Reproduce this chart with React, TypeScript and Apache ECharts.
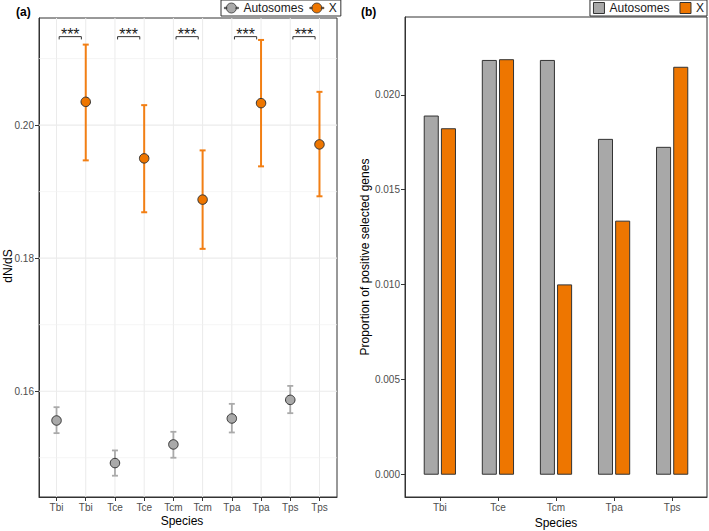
import React, { useEffect, useRef } from 'react';
import * as echarts from 'echarts';

// ---------- data ----------
const species = ['Tbi', 'Tce', 'Tcm', 'Tpa', 'Tps'];
const groupNames = ['Autosomes', 'X'];

// panel (a): dN/dS, mean with error-bar limits
const autoMean = [0.1556, 0.1492, 0.152, 0.1559, 0.1587];
const autoLow = [0.1537, 0.1473, 0.15, 0.1538, 0.1567];
const autoHigh = [0.1576, 0.1511, 0.1539, 0.1581, 0.1608];
const xMean = [0.2035, 0.195, 0.1888, 0.2033, 0.1971];
const xLow = [0.1947, 0.1869, 0.1814, 0.1938, 0.1893];
const xHigh = [0.2121, 0.203, 0.1962, 0.2128, 0.205];
const sigLabels = ['***', '***', '***', '***', '***'];
const sigY = 0.2133;
const aMajorTicks = [0.16, 0.18, 0.2];
const aMinorTicks = [0.15, 0.17, 0.19, 0.21];

// panel (b): proportion of positively selected genes
const autoProp = [0.01888, 0.02181, 0.02181, 0.01765, 0.01723];
const xProp = [0.01821, 0.02185, 0.00998, 0.01334, 0.02145];
const bTicks = [0, 0.005, 0.01, 0.015, 0.02];

// ---------- styling ----------
const FONT = "'Liberation Sans', Arial, Helvetica, sans-serif";
const GREY = '#A9A9A9';
const ORANGE = '#EE7600';
const ORANGE_BAR = '#F27F14';
const GREY_BAR = '#A8A8A8';
const DARK = '#333333';
const GRID = '#EBEBEB';

const aCats = species.flatMap((s) => [s, s]);
const aIdx = aCats.map((_, i) => i);
const bIdx = species.map((_, i) => i);

const legendIcon =
  'path://M0,4.3h2.4v1.4H0z M11.6,4.3H14v1.4h-2.6z M2,5a5,5 0 1,0 10,0a5,5 0 1,0 -10,0z';

function errRender(color: string, lw: number) {
  return (params: any, api: any) => {
    const x = api.value(0);
    const lo = api.coord([x, api.value(1)]);
    const hi = api.coord([x, api.value(2)]);
    const cw = 3;
    const st = { stroke: color, lineWidth: lw };
    return {
      type: 'group',
      children: [
        { type: 'line', shape: { x1: lo[0], y1: lo[1], x2: hi[0], y2: hi[1] }, style: st },
        { type: 'line', shape: { x1: lo[0] - cw, y1: lo[1], x2: lo[0] + cw, y2: lo[1] }, style: st },
        { type: 'line', shape: { x1: hi[0] - cw, y1: hi[1], x2: hi[0] + cw, y2: hi[1] }, style: st },
      ],
    };
  };
}

function barRender(offset: number, width: number, fill: string) {
  return (params: any, api: any) => {
    const x = api.value(0) + offset;
    const p0 = api.coord([x - width / 2, api.value(1)]);
    const p1 = api.coord([x + width / 2, 0]);
    return {
      type: 'rect',
      shape: { x: p0[0], y: p0[1], width: p1[0] - p0[0], height: p1[1] - p0[1] },
      style: { fill, stroke: DARK, lineWidth: 1 },
    };
  };
}

export default function App() {
  const ref = useRef<HTMLDivElement>(null);
  useEffect(() => {
    document.body.style.margin = '0';
    const chart = echarts.init(ref.current!, null, { renderer: 'svg' });
    const axisText = { color: '#4D4D4D', fontSize: 10, fontFamily: FONT };
    const option: any = {
      animation: false,
      backgroundColor: '#fff',
      textStyle: { fontFamily: FONT },
      grid: [
        { left: 39, top: 18, width: 298, height: 479, show: true, borderColor: DARK, borderWidth: 1, outerBoundsMode: 'none' },
        { left: 405, top: 17, width: 302, height: 480, show: true, borderColor: DARK, borderWidth: 1, outerBoundsMode: 'none' },
      ],
      xAxis: [
        {
          gridIndex: 0,
          type: 'value',
          min: -0.6,
          max: 9.6,
          axisLine: { show: true, onZero: false, lineStyle: { color: DARK, width: 1 } },
          axisTick: { show: true, customValues: aIdx, length: 4, lineStyle: { color: DARK } },
          axisLabel: { customValues: aIdx, formatter: (v: number) => aCats[Math.round(v)], margin: 5, ...axisText },
          splitLine: { show: false },
        },
        {
          gridIndex: 1,
          type: 'value',
          min: -0.6,
          max: 4.6,
          axisLine: { show: true, onZero: false, lineStyle: { color: DARK, width: 1 } },
          axisTick: { show: true, customValues: bIdx, length: 4, lineStyle: { color: DARK } },
          axisLabel: { customValues: bIdx, formatter: (v: number) => species[Math.round(v)], margin: 5, ...axisText },
          splitLine: { show: false },
          name: 'Species',
          nameLocation: 'middle',
          nameGap: 18,
          nameTextStyle: { fontSize: 12, color: '#000', fontFamily: FONT },
        },
      ],
      yAxis: [
        {
          gridIndex: 0,
          type: 'value',
          min: 0.1441,
          max: 0.2161,
          axisLine: { show: true, onZero: false, lineStyle: { color: DARK, width: 1 } },
          axisTick: { show: true, customValues: aMajorTicks, length: 4, lineStyle: { color: DARK } },
          axisLabel: { customValues: aMajorTicks, formatter: (v: number) => v.toFixed(2), margin: 5, ...axisText },
          splitLine: { show: false },
        },
        {
          gridIndex: 1,
          type: 'value',
          min: -0.0012,
          max: 0.0241,
          axisLine: { show: true, onZero: false, lineStyle: { color: DARK, width: 1 } },
          axisTick: { show: true, customValues: bTicks, length: 4, lineStyle: { color: DARK } },
          axisLabel: { customValues: bTicks, formatter: (v: number) => v.toFixed(3), margin: 5, ...axisText },
          splitLine: { show: false },
          name: 'Proportion of positive selected genes',
          nameLocation: 'middle',
          nameGap: 33,
          nameTextStyle: { fontSize: 12, color: '#000', fontFamily: FONT },
        },
      ],
      legend: [
        {
          left: 221,
          top: 0,
          width: 200,
          orient: 'horizontal',
          itemWidth: 14,
          itemHeight: 10,
          itemGap: 6,
          padding: [2, 4, 2, 3],
          borderColor: DARK,
          borderWidth: 1,
          backgroundColor: '#fff',
          textStyle: { fontSize: 12, color: '#1A1A1A', fontFamily: FONT },
          data: [
            { name: groupNames[0], icon: legendIcon, itemStyle: { color: GREY, borderColor: DARK, borderWidth: 0.8 } },
            { name: groupNames[1], icon: legendIcon, itemStyle: { color: ORANGE, borderColor: DARK, borderWidth: 0.8 } },
          ],
        },
        {
          right: 2,
          top: 0,
          width: 200,
          orient: 'horizontal',
          itemWidth: 11,
          itemHeight: 11,
          itemGap: 10,
          padding: [2, 3, 2, 3],
          borderColor: DARK,
          borderWidth: 1,
          backgroundColor: '#fff',
          textStyle: { fontSize: 12, color: '#1A1A1A', fontFamily: FONT },
          data: [
            { name: groupNames[0], icon: 'rect', itemStyle: { color: GREY_BAR, borderColor: DARK, borderWidth: 1 } },
            { name: groupNames[1], icon: 'rect', itemStyle: { color: ORANGE, borderColor: DARK, borderWidth: 1 } },
          ],
        },
      ],
      graphic: [
        { type: 'text', x: 16, y: 12, style: { text: '(a)', fontSize: 12, fontWeight: 'bold', fill: '#000', align: 'left', verticalAlign: 'middle', fontFamily: FONT } },
        { type: 'text', x: 361, y: 12, style: { text: '(b)', fontSize: 12, fontWeight: 'bold', fill: '#000', align: 'left', verticalAlign: 'middle', fontFamily: FONT } },
        { type: 'text', x: 182, y: 521, style: { text: 'Species', fontSize: 12, fill: '#000', align: 'center', verticalAlign: 'middle', fontFamily: FONT } },
        { type: 'text', x: 8, y: 266, rotation: Math.PI / 2, style: { text: 'dN/dS', fontSize: 12, fill: '#000', align: 'center', verticalAlign: 'middle', fontFamily: FONT } },
      ],
      series: [
        // gridlines panel (a)
        {
          type: 'custom',
          xAxisIndex: 0,
          yAxisIndex: 0,
          z: 1,
          silent: true,
          data: aIdx.map((i) => [i, 0.18]),
          renderItem: (params: any, api: any) => {
            const cs = params.coordSys;
            const p = api.coord([api.value(0), api.value(1)]);
            return { type: 'line', shape: { x1: p[0], y1: cs.y, x2: p[0], y2: cs.y + cs.height }, style: { stroke: GRID, lineWidth: 1 } };
          },
        },
        {
          type: 'custom',
          xAxisIndex: 0,
          yAxisIndex: 0,
          z: 1,
          silent: true,
          data: aMajorTicks.map((v) => [0, v]),
          renderItem: (params: any, api: any) => {
            const cs = params.coordSys;
            const p = api.coord([api.value(0), api.value(1)]);
            return { type: 'line', shape: { x1: cs.x, y1: p[1], x2: cs.x + cs.width, y2: p[1] }, style: { stroke: GRID, lineWidth: 1.1 } };
          },
        },
        {
          type: 'custom',
          xAxisIndex: 0,
          yAxisIndex: 0,
          z: 1,
          silent: true,
          data: aMinorTicks.map((v) => [0, v]),
          renderItem: (params: any, api: any) => {
            const cs = params.coordSys;
            const p = api.coord([api.value(0), api.value(1)]);
            return { type: 'line', shape: { x1: cs.x, y1: p[1], x2: cs.x + cs.width, y2: p[1] }, style: { stroke: '#F0F0F0', lineWidth: 0.7 } };
          },
        },
        // error bars
        {
          name: groupNames[0],
          type: 'custom',
          xAxisIndex: 0,
          yAxisIndex: 0,
          z: 3,
          encode: { x: 0, y: [1, 2] },
          data: species.map((_, i) => [2 * i, autoLow[i], autoHigh[i]]),
          renderItem: errRender('#AAAAAA', 1.8),
        },
        {
          name: groupNames[1],
          type: 'custom',
          xAxisIndex: 0,
          yAxisIndex: 0,
          z: 3,
          encode: { x: 0, y: [1, 2] },
          data: species.map((_, i) => [2 * i + 1, xLow[i], xHigh[i]]),
          renderItem: errRender(ORANGE_BAR, 2),
        },
        // points
        {
          name: groupNames[0],
          type: 'scatter',
          xAxisIndex: 0,
          yAxisIndex: 0,
          z: 4,
          symbol: 'circle',
          symbolSize: 9.5,
          itemStyle: { color: GREY, borderColor: DARK, borderWidth: 1, opacity: 1 },
          data: species.map((_, i) => [2 * i, autoMean[i]]),
        },
        {
          name: groupNames[1],
          type: 'scatter',
          xAxisIndex: 0,
          yAxisIndex: 0,
          z: 4,
          symbol: 'circle',
          symbolSize: 9.5,
          itemStyle: { color: ORANGE, borderColor: DARK, borderWidth: 1, opacity: 1 },
          data: species.map((_, i) => [2 * i + 1, xMean[i]]),
        },
        // significance brackets
        {
          type: 'custom',
          xAxisIndex: 0,
          yAxisIndex: 0,
          z: 5,
          silent: true,
          data: species.map((_, i) => [2 * i + 0.09, 2 * i + 0.85, sigY]),
          renderItem: (params: any, api: any) => {
            const a = api.coord([api.value(0), api.value(2)]);
            const b = api.coord([api.value(1), api.value(2)]);
            const tip = 2.8;
            return {
              type: 'group',
              children: [
                {
                  type: 'polyline',
                  shape: { points: [[a[0], a[1] + tip], [a[0], a[1]], [b[0], b[1]], [b[0], b[1] + tip]] },
                  style: { stroke: DARK, lineWidth: 1, fill: 'none' },
                },
                {
                  type: 'text',
                  x: (a[0] + b[0]) / 2,
                  y: a[1] - 2,
                  style: { text: sigLabels[params.dataIndex], align: 'center', verticalAlign: 'middle', fontSize: 16, fill: '#1A1A1A', fontFamily: FONT },
                },
              ],
            };
          },
        },
        // bars panel (b)
        {
          name: groupNames[0],
          type: 'custom',
          xAxisIndex: 1,
          yAxisIndex: 1,
          z: 3,
          itemStyle: { color: GREY_BAR },
          data: species.map((_, i) => [i, autoProp[i]]),
          renderItem: barRender(-0.148, 0.242, GREY_BAR),
        },
        {
          name: groupNames[1],
          type: 'custom',
          xAxisIndex: 1,
          yAxisIndex: 1,
          z: 3,
          itemStyle: { color: ORANGE },
          data: species.map((_, i) => [i, xProp[i]]),
          renderItem: barRender(0.148, 0.242, ORANGE),
        },
      ],
    };
    chart.setOption(option);
    return () => chart.dispose();
  }, []);
  return <div ref={ref} style={{ width: 709, height: 531, overflow: 'hidden' }} />;
}
